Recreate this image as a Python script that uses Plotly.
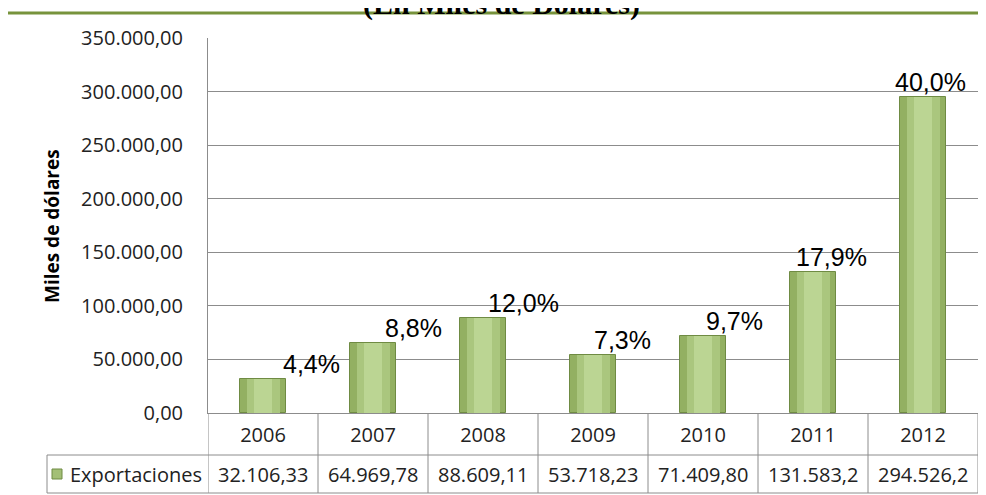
import plotly.graph_objects as go

# data
years = ["2006", "2007", "2008", "2009", "2010", "2011", "2012"]
exports = [32106.33, 64969.78, 88609.11, 53718.23, 71409.80, 131583.2, 294526.2]
export_labels = ["32.106,33", "64.969,78", "88.609,11", "53.718,23", "71.409,80", "131.583,2", "294.526,2"]
share_labels = ["4,4%", "8,8%", "12,0%", "7,3%", "9,7%", "17,9%", "40,0%"]
series_name = "Exportaciones"

W, H = 986, 495
OFF = 8  # page body margin
L, R, T, B = 208, 978, 38, 413  # plot area in page pixels


def px_x(p):
    return (p - L) / (R - L)


def px_y(p):
    return (B - p) / (B - T)


fig = go.Figure()

# fake cylinder shading: darker outer bar, lighter inner layers
for width, color, line in [(0.41, "#93B062", "#6F8B43"), (0.30, "#AAC67E", None), (0.16, "#BBD593", None)]:
    fig.add_trace(go.Bar(
        x=years, y=exports, width=width,
        marker=dict(color=color, line=dict(color=line or color, width=1 if line else 0)),
        showlegend=False, hoverinfo="skip",
    ))

# share labels above the bars (Excel puts them off to the right)
# category axis: numeric-looking years would be read as indices, so use positions
x_shifts = [48, 40, 40, 29, 31, 18, 7]
annotations = []
for i, (v, lab, xs) in enumerate(zip(exports, share_labels, x_shifts)):
    annotations.append(dict(
        x=i, y=v, xref="x", yref="y", text=lab, showarrow=False,
        xshift=xs, yshift=15, yanchor="middle",
        font=dict(family="Liberation Sans", size=25, color="#000"),
    ))

# data table values row
row_mid = px_y(474)
for i, lab in enumerate(export_labels):
    annotations.append(dict(
        x=i, y=row_mid, xref="x", yref="paper", text=lab, showarrow=False,
        yanchor="middle", font=dict(family="Open Sans", size=20, color="#222"),
    ))
annotations.append(dict(
    x=px_x(68), y=row_mid, xref="paper", yref="paper", text=series_name,
    showarrow=False, xanchor="left", yanchor="middle",
    font=dict(family="Open Sans", size=20, color="#222"),
))

# title, cut off at the top of the picture
annotations.append(dict(
    x=px_x(501), y=px_y(4), xref="paper", yref="paper",
    text="<b>(En Miles de Dólares)</b>", showarrow=False,
    xanchor="center", yanchor="middle",
    font=dict(family="Liberation Serif", size=30, color="#000"),
))

# y axis title
annotations.append(dict(
    x=px_x(52), y=px_y(226), xref="paper", yref="paper", text="Miles de dólares",
    showarrow=False, textangle=-90, xanchor="center", yanchor="middle",
    font=dict(family="Open Sans", size=19, color="#000", weight="bold"),
))

grey = "#8C8C8C"
shapes = []
# table grid
for i in range(len(years) + 1):
    shapes.append(dict(type="line", xref="x", yref="paper", x0=i - 0.5, x1=i - 0.5,
                       y0=px_y(413), y1=px_y(493), line=dict(color=grey, width=1)))
for yy in (455, 493):
    shapes.append(dict(type="line", xref="paper", yref="paper", x0=px_x(47), x1=1,
                       y0=px_y(yy), y1=px_y(yy), line=dict(color=grey, width=1)))
shapes.append(dict(type="line", xref="paper", yref="paper", x0=px_x(47), x1=px_x(47),
                   y0=px_y(455), y1=px_y(493), line=dict(color=grey, width=1)))
# legend key
shapes.append(dict(type="rect", xref="paper", yref="paper", x0=px_x(52), x1=px_x(62),
                   y0=px_y(479), y1=px_y(469), fillcolor="#A3BF76",
                   line=dict(color="#6F8B43", width=1)))
# green outer frame
shapes.append(dict(type="rect", xref="paper", yref="paper", x0=px_x(6), x1=px_x(1000),
                   y0=px_y(520), y1=px_y(13), line=dict(color="#77933C", width=3)))

fig.update_layout(
    width=W - OFF, height=H - OFF,
    margin=dict(l=L - OFF, r=W - R, t=T - OFF, b=H - B, autoexpand=False),
    paper_bgcolor="white", plot_bgcolor="white",
    barmode="overlay", bargap=0,
    separators=",.",
    annotations=annotations, shapes=shapes,
    showlegend=False,
)
fig.update_xaxes(
    type="category", range=[-0.5, len(years) - 0.5], automargin=False,
    showline=True, linecolor=grey, linewidth=1,
    showgrid=False, ticks="", ticklabelstandoff=4,
    tickfont=dict(family="Open Sans", size=20, color="#222"),
)
fig.update_yaxes(
    range=[0, 350000], dtick=50000, tickformat=",.2f", automargin=False,
    showgrid=True, gridcolor=grey, gridwidth=1, zeroline=False,
    showline=True, linecolor=grey, linewidth=1, ticks="", ticklabelstandoff=20,
    tickfont=dict(family="Open Sans", size=20, color="#222"),
)

fig.write_html("out.html")
